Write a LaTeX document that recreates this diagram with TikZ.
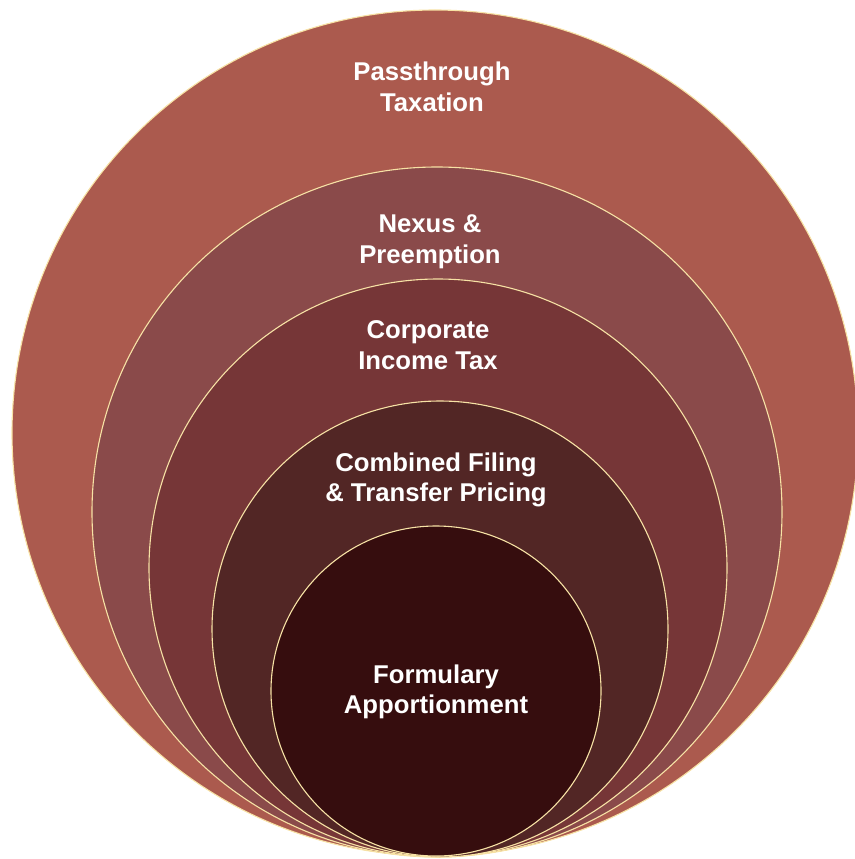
\documentclass[tikz,border=0pt]{standalone}
\usepackage{fontspec}
\setmainfont{Liberation Sans}
\usepackage{xcolor}

\definecolor{rim}{RGB}{247,226,165}
\definecolor{passthroughfill}{RGB}{171,90,78}
\definecolor{nexusfill}{RGB}{138,74,74}
\definecolor{corporatefill}{RGB}{118,54,55}
\definecolor{combinedfill}{RGB}{82,38,37}
\definecolor{formularyfill}{RGB}{54,13,14}

\begin{document}
\begin{tikzpicture}[x=1pt,y=-1pt]
\tikzset{ring/.style={circle,draw=rim,line width=1.1pt,inner sep=0pt,outer sep=0pt}}
\tikzset{caption/.style={text=white,align=center,font=\fontsize{25.7}{30.5}\selectfont\bfseries}}

\useasboundingbox (0,0) rectangle (854,859);

\node[ring,fill=passthroughfill,minimum size=846pt] (passthrough) at (435,433) {};
\node[ring,fill=nexusfill,minimum size=690pt] (nexus) at (437,512) {};
\node[ring,fill=corporatefill,minimum size=578pt] (corporate) at (438,568) {};
\node[ring,fill=combinedfill,minimum size=456pt] (combined) at (440,629) {};
\node[ring,fill=formularyfill,minimum size=330pt] (formulary) at (436,691) {};

\node[caption] (passthroughtext) at (432,87) {Passthrough\\Taxation};
\node[caption] (nexustext) at (430,242) {Nexus \&\\Preemption};
\node[caption] (corporatetext) at (428,345) {Corporate\\Income Tax};
\node[caption] (combinedtext) at (436,480) {Combined Filing\\\& Transfer Pricing};
\node[caption] (formularytext) at (436,692) {Formulary\\Apportionment};

\end{tikzpicture}
\end{document}
